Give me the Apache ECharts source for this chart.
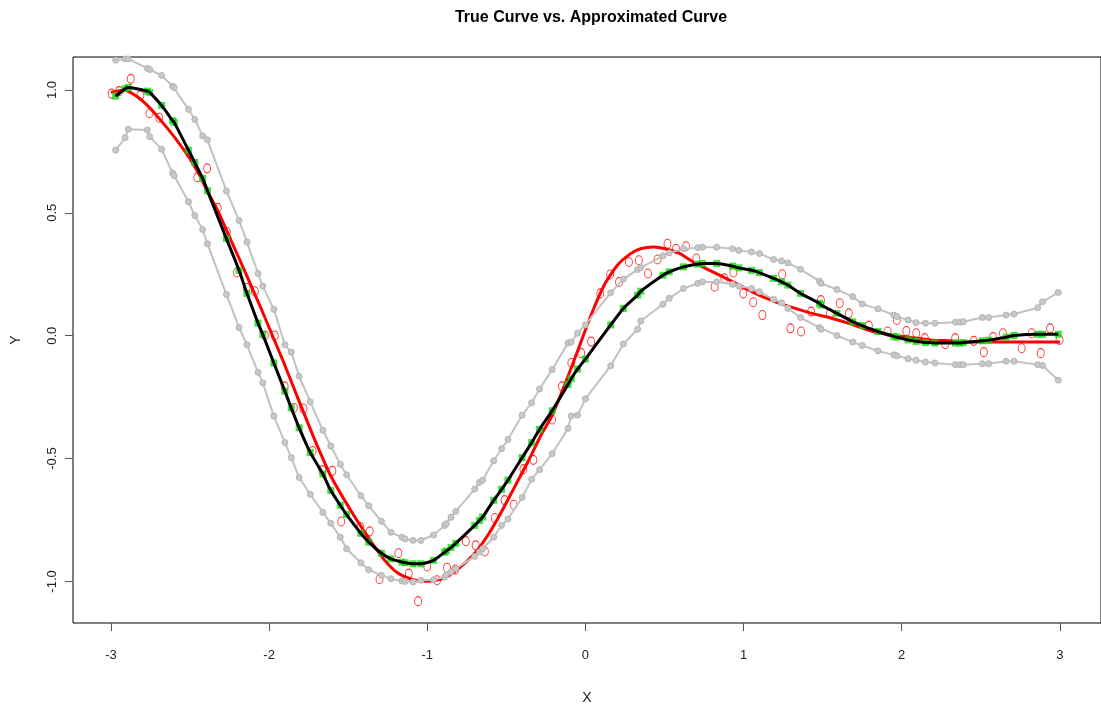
<!DOCTYPE html>
<html>
<head>
<meta charset="utf-8">
<title>True Curve vs. Approximated Curve</title>
<script src="https://cdn.jsdelivr.net/npm/echarts@6/dist/echarts.min.js"></script>
<style>
  html, body { margin: 0; padding: 0; background: #ffffff; }
  #chart { width: 1101px; height: 710px; }
</style>
</head>
<body>
<div id="chart"></div>
<script>
// Axis ticks
const xTicks = [-3, -2, -1, 0, 1, 2, 3];
const yTicks = [-1.0, -0.5, 0.0, 0.5, 1.0];

// Noisy observations
const obsX = [-2.996, -2.948, -2.875, -2.814, -2.756, -2.694, -2.454, -2.392, -2.325, -2.267,
  -2.204, -2.142, -2.090, -2.027, -1.965, -1.902, -1.844, -1.783, -1.725, -1.663,
  -1.600, -1.544, -1.423, -1.364, -1.302, -1.183, -1.117, -1.058, -1.000, -0.938,
  -0.875, -0.823, -0.756, -0.694, -0.636, -0.573, -0.511, -0.454, -0.392, -0.329,
  -0.211, -0.148, -0.089, -0.027, 0.036, 0.094, 0.156, 0.213, 0.275, 0.338,
  0.396, 0.456, 0.519, 0.573, 0.636, 0.702, 0.817, 0.879, 0.936, 0.998,
  1.061, 1.119, 1.244, 1.296, 1.364, 1.427, 1.489, 1.546, 1.608, 1.665,
  1.792, 1.910, 1.969, 2.029, 2.092, 2.146, 2.275, 2.338, 2.456, 2.519,
  2.577, 2.640, 2.758, 2.821, 2.879, 2.938, 2.998];
const obsY = [0.985, 0.995, 1.045, 0.978, 0.905, 0.887, 0.645, 0.681, 0.520, 0.422,
  0.257, 0.194, 0.181, 0.001, 0.001, -0.206, -0.294, -0.296, -0.469, -0.547,
  -0.550, -0.756, -0.779, -0.796, -0.991, -0.885, -0.968, -1.080, -0.939, -0.995,
  -0.944, -0.952, -0.836, -0.853, -0.878, -0.742, -0.669, -0.688, -0.543, -0.505,
  -0.341, -0.206, -0.111, -0.071, -0.024, 0.172, 0.249, 0.219, 0.300, 0.307,
  0.253, 0.310, 0.374, 0.354, 0.364, 0.314, 0.199, 0.233, 0.257, 0.172,
  0.136, 0.084, 0.250, 0.030, 0.017, 0.098, 0.145, 0.091, 0.132, 0.091,
  0.041, 0.017, 0.064, 0.019, 0.010, -0.010, -0.034, -0.010, -0.021, -0.067,
  -0.006, 0.010, -0.051, 0.010, -0.071, 0.030, -0.017];

// True curve
const trueX = [-3.0, -2.92, -2.84, -2.756, -2.673, -2.589, -2.506, -2.444, -2.392, -2.32,
  -2.236, -2.152, -2.069, -1.985, -1.902, -1.819, -1.736, -1.694, -1.611, -1.527,
  -1.444, -1.36, -1.277, -1.194, -1.11, -1.027, -0.944, -0.86, -0.777, -0.694,
  -0.611, -0.527, -0.444, -0.361, -0.277, -0.215, -0.131, -0.048, 0.036, 0.119,
  0.202, 0.286, 0.348, 0.431, 0.504, 0.598, 0.681, 0.786, 0.889, 0.994,
  1.098, 1.202, 1.306, 1.431, 1.556, 1.681, 1.806, 1.931, 2.056, 2.181,
  2.306, 2.431, 2.64, 3.0];
const trueY = [0.99, 1.0, 0.975, 0.928, 0.867, 0.800, 0.725, 0.658, 0.590, 0.503,
  0.381, 0.260, 0.138, 0.010, -0.118, -0.253, -0.385, -0.450, -0.570, -0.665,
  -0.752, -0.833, -0.908, -0.962, -0.989, -0.999, -0.995, -0.975, -0.934, -0.881,
  -0.806, -0.712, -0.611, -0.51, -0.40, -0.33, -0.20, -0.06, 0.084, 0.206,
  0.287, 0.334, 0.354, 0.361, 0.354, 0.334, 0.300, 0.266, 0.233, 0.199,
  0.165, 0.138, 0.115, 0.091, 0.071, 0.047, 0.019, 0.003, -0.007, -0.017,
  -0.021, -0.026, -0.026, -0.026];

// Approximation and its band, evaluated at the same x positions
const bandX = [-2.97, -2.91, -2.89, -2.77, -2.755, -2.68, -2.61, -2.60, -2.51, -2.47,
  -2.42, -2.39, -2.27, -2.19, -2.14, -2.07, -2.04, -1.97, -1.90, -1.86,
  -1.81, -1.74, -1.66, -1.61, -1.55, -1.51, -1.42, -1.37, -1.29, -1.23,
  -1.16, -1.14, -1.09, -1.04, -0.96, -0.89, -0.88, -0.85, -0.82, -0.70,
  -0.67, -0.65, -0.58, -0.53, -0.49, -0.40, -0.34, -0.29, -0.21, -0.11,
  -0.09, -0.05, 0.00, 0.16, 0.24, 0.33, 0.35, 0.49, 0.53, 0.62,
  0.71, 0.74, 0.83, 0.93, 0.97, 1.05, 1.10, 1.19, 1.24, 1.28,
  1.36, 1.48, 1.49, 1.59, 1.69, 1.75, 1.85, 1.95, 1.97, 2.04,
  2.09, 2.15, 2.21, 2.34, 2.37, 2.39, 2.51, 2.55, 2.66, 2.71,
  2.86, 2.89, 2.99];
const fitY = [0.975, 1.005, 1.010, 0.995, 0.990, 0.937, 0.875, 0.868, 0.755, 0.705,
  0.640, 0.590, 0.395, 0.266, 0.172, 0.051, 0.005, -0.111, -0.226, -0.294,
  -0.375, -0.475, -0.563, -0.630, -0.690, -0.728, -0.804, -0.840, -0.885, -0.908,
  -0.921, -0.924, -0.928, -0.928, -0.914, -0.881, -0.876, -0.862, -0.845, -0.772,
  -0.752, -0.738, -0.670, -0.625, -0.588, -0.496, -0.435, -0.381, -0.305, -0.199,
  -0.175, -0.136, -0.095, 0.044, 0.111, 0.165, 0.181, 0.246, 0.260, 0.280,
  0.291, 0.294, 0.294, 0.283, 0.276, 0.266, 0.257, 0.233, 0.219, 0.206,
  0.172, 0.132, 0.125, 0.091, 0.057, 0.041, 0.017, -0.003, -0.006, -0.017,
  -0.023, -0.028, -0.030, -0.030, -0.030, -0.028, -0.021, -0.018, -0.006, 0.001,
  0.006, 0.006, 0.006];
const upperY = [1.121, 1.126, 1.126, 1.088, 1.083, 1.059, 1.015, 1.010, 0.921, 0.880,
  0.813, 0.797, 0.589, 0.469, 0.381, 0.253, 0.202, 0.107, -0.037, -0.067,
  -0.165, -0.269, -0.385, -0.449, -0.523, -0.566, -0.651, -0.692, -0.755, -0.800,
  -0.820, -0.827, -0.833, -0.833, -0.811, -0.772, -0.765, -0.739, -0.715, -0.624,
  -0.597, -0.588, -0.509, -0.460, -0.422, -0.323, -0.273, -0.217, -0.138, -0.030,
  -0.026, 0.010, 0.044, 0.175, 0.230, 0.269, 0.277, 0.325, 0.337, 0.354,
  0.358, 0.360, 0.360, 0.354, 0.347, 0.341, 0.334, 0.310, 0.304, 0.296,
  0.270, 0.222, 0.213, 0.188, 0.159, 0.129, 0.109, 0.084, 0.078, 0.064,
  0.053, 0.051, 0.051, 0.055, 0.055, 0.057, 0.074, 0.074, 0.084, 0.088,
  0.114, 0.138, 0.176];
const lowerY = [0.755, 0.806, 0.840, 0.837, 0.810, 0.759, 0.662, 0.651, 0.545, 0.489,
  0.432, 0.374, 0.168, 0.033, -0.037, -0.149, -0.192, -0.327, -0.435, -0.496,
  -0.577, -0.645, -0.719, -0.763, -0.820, -0.867, -0.924, -0.952, -0.975, -0.989,
  -0.998, -1.000, -1.002, -0.995, -0.993, -0.982, -0.972, -0.962, -0.948, -0.898,
  -0.880, -0.867, -0.820, -0.772, -0.746, -0.658, -0.584, -0.545, -0.480, -0.377,
  -0.327, -0.323, -0.257, -0.122, -0.034, 0.026, 0.060, 0.128, 0.152, 0.192,
  0.213, 0.219, 0.219, 0.209, 0.202, 0.192, 0.179, 0.148, 0.134, 0.111,
  0.074, 0.033, 0.026, 0.001, -0.026, -0.040, -0.062, -0.078, -0.082, -0.094,
  -0.100, -0.107, -0.111, -0.118, -0.118, -0.118, -0.114, -0.114, -0.104, -0.104,
  -0.118, -0.121, -0.181];

const pairs = (xs, ys) => xs.map((x, i) => [x, ys[i]]);

const FONT = '"Liberation Sans", Arial, sans-serif';
const bandColor = '#c2c2c2';

const chart = echarts.init(document.getElementById('chart'), null, { renderer: 'canvas' });

chart.setOption({
  animation: false,
  backgroundColor: '#ffffff',
  textStyle: { fontFamily: FONT },
  graphic: [{
    type: 'text',
    x: 591, y: 18,
    style: {
      text: 'True Curve vs. Approximated Curve',
      fill: '#000',
      font: 'bold 16px ' + FONT,
      align: 'center',
      verticalAlign: 'middle'
    }
  }],
  grid: {
    left: 73, top: 57, right: -12, bottom: 84,
    show: true, borderColor: '#000', borderWidth: 1,
    containLabel: false
  },
  xAxis: {
    type: 'value',
    min: -3.24, max: 3.26,
    name: 'X',
    nameLocation: 'middle',
    nameGap: 68,
    nameTextStyle: { fontSize: 14, color: '#222', fontFamily: FONT },
    axisLine: { show: false, onZero: false },
    splitLine: { show: false },
    axisTick: { show: true, length: 8, lineStyle: { color: '#555' }, customValues: xTicks },
    axisLabel: {
      color: '#222', fontSize: 13, fontFamily: FONT, margin: 26,
      customValues: xTicks,
      formatter: v => String(Math.round(v))
    }
  },
  yAxis: {
    type: 'value',
    min: -1.169, max: 1.134,
    name: 'Y',
    nameLocation: 'middle',
    nameGap: 50,
    nameRotate: 90,
    nameTextStyle: { fontSize: 14, color: '#222', fontFamily: FONT },
    axisLine: { show: false, onZero: false },
    splitLine: { show: false },
    axisTick: { show: true, length: 8, lineStyle: { color: '#555' }, customValues: yTicks },
    axisLabel: {
      color: '#222', fontSize: 13, fontFamily: FONT, margin: 14, rotate: 90,
      customValues: yTicks,
      formatter: v => v.toFixed(1)
    }
  },
  series: [
    {
      name: 'Observed',
      type: 'scatter',
      data: pairs(obsX, obsY),
      symbol: 'circle',
      symbolSize: [7, 9],
      itemStyle: { color: 'rgba(255,255,255,0)', borderColor: '#ff0000', borderWidth: 1 },
      z: 2
    },
    {
      name: 'True curve',
      type: 'line',
      data: pairs(trueX, trueY),
      smooth: 0.2,
      showSymbol: false,
      lineStyle: { color: '#ff0000', width: 3 },
      z: 3
    },
    {
      name: 'Upper band',
      type: 'line',
      data: pairs(bandX, upperY),
      symbol: 'circle',
      symbolSize: 6,
      itemStyle: { color: '#c8c8c8', borderColor: '#b4b4b4', borderWidth: 1 },
      lineStyle: { color: bandColor, width: 2 },
      z: 4
    },
    {
      name: 'Lower band',
      type: 'line',
      data: pairs(bandX, lowerY),
      symbol: 'circle',
      symbolSize: 6,
      itemStyle: { color: '#c8c8c8', borderColor: '#b4b4b4', borderWidth: 1 },
      lineStyle: { color: bandColor, width: 2 },
      z: 4
    },
    {
      name: 'Approximation points',
      type: 'scatter',
      data: pairs(bandX, fitY),
      symbol: 'rect',
      symbolSize: 7,
      itemStyle: { color: '#0edc0e' },
      z: 5
    },
    {
      name: 'Approximated curve',
      type: 'line',
      data: pairs(bandX, fitY),
      smooth: 0.2,
      showSymbol: false,
      lineStyle: { color: '#000000', width: 3 },
      z: 6
    }
  ]
});
</script>
</body>
</html>
